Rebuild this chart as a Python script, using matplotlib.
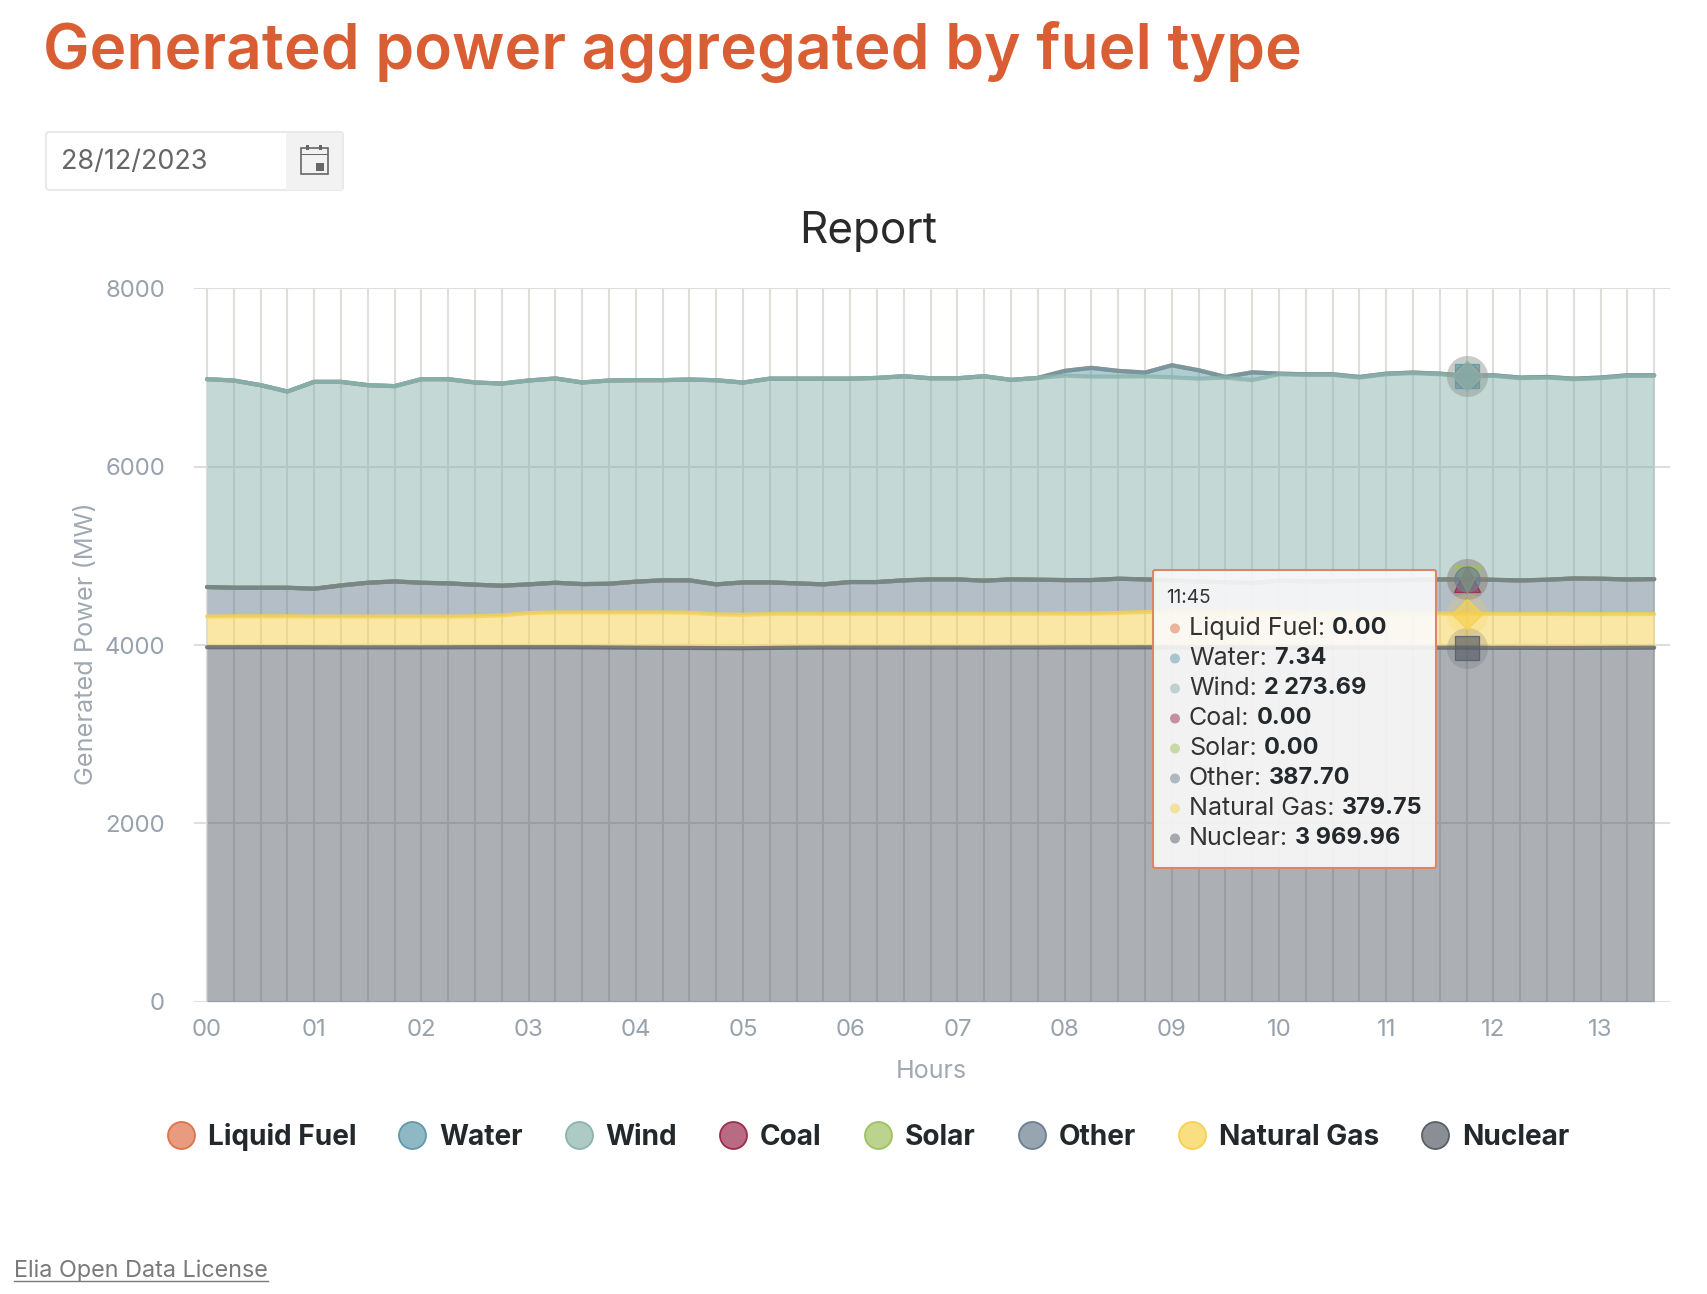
import matplotlib
matplotlib.use("Agg")
import matplotlib.pyplot as plt
from matplotlib import font_manager as fm
from matplotlib.lines import Line2D
from matplotlib.patches import Rectangle, FancyBboxPatch, Ellipse

W, H = 1708, 1294
FONT = "Inter"

hours = ["00", "01", "02", "03", "04", "05", "06", "07", "08", "09", "10", "11", "12", "13"]
series_names = ["Liquid Fuel", "Water", "Wind", "Coal", "Solar", "Other", "Natural Gas", "Nuclear"]
series_colors = ["#E0714A", "#5E9AAB", "#8AB4AC", "#9B2D4E", "#9FC15F", "#6B7F91", "#F7D14D", "#5A6068"]

nuclear = [3975, 3975, 3975, 3975, 3974, 3973, 3973, 3973, 3973, 3974, 3975, 3975, 3975, 3975, 3974, 3972, 3970, 3968,
           3967, 3965, 3964, 3967, 3970, 3971, 3971, 3971, 3971, 3971, 3971, 3971, 3972, 3972, 3973, 3973, 3973, 3974,
           3974, 3973, 3973, 3973, 3972, 3972, 3972, 3971, 3971, 3971, 3970, 3970, 3968, 3968, 3967, 3967, 3968, 3969, 3970]
gas_top = [4320, 4322, 4322, 4322, 4320, 4320, 4320, 4320, 4320, 4320, 4322, 4332, 4358, 4365, 4365, 4365, 4365, 4365,
           4362, 4343, 4339, 4347, 4350, 4350, 4350, 4350, 4350, 4350, 4350, 4350, 4350, 4350, 4352, 4352, 4360, 4369,
           4380, 4378, 4375, 4372, 4370, 4368, 4365, 4362, 4358, 4355, 4352, 4350, 4348, 4348, 4348, 4347, 4347, 4347, 4347]
other_top = [4650, 4642, 4642, 4642, 4631, 4668, 4698, 4713, 4698, 4691, 4676, 4665, 4680, 4698, 4683, 4687, 4710, 4725,
             4725, 4680, 4702, 4702, 4691, 4680, 4706, 4706, 4725, 4736, 4736, 4721, 4736, 4732, 4728, 4728, 4743, 4736,
             4725, 4710, 4705, 4695, 4720, 4715, 4715, 4720, 4725, 4730, 4735, 4737, 4731, 4724, 4732, 4746, 4743, 4735, 4739]
wind_top = [6981, 6966, 6914, 6843, 6951, 6951, 6914, 6903, 6981, 6981, 6944, 6932, 6966, 6989, 6944, 6966, 6970, 6970,
            6977, 6969, 6943, 6987, 6987, 6987, 6987, 6995, 7014, 6991, 6991, 7014, 6973, 6995, 7020, 7010, 7010, 7013,
            7002, 6987, 6999, 6969, 7036, 7029, 7029, 6999, 7036, 7048, 7036, 7011, 7018, 6992, 6999, 6980, 6992, 7018, 7018]
water_top = [6981, 6966, 6914, 6843, 6951, 6951, 6914, 6903, 6981, 6981, 6944, 6932, 6966, 6989, 6944, 6966, 6970, 6970,
             6977, 6969, 6943, 6987, 6987, 6987, 6987, 6995, 7014, 6991, 6991, 7014, 6973, 6995, 7074, 7108, 7074, 7055,
             7137, 7081, 7006, 7058, 7043, 7036, 7036, 7006, 7043, 7055, 7043, 7018, 7025, 6999, 7006, 6987, 6999, 7025, 7025]
zero_line = [0] * 55
idx = list(range(55))
hover_index = 47
tooltip_time = "11:45"
tooltip_values = ["0.00", "7.34", "2 273.69", "0.00", "0.00", "387.70", "379.75", "3 969.96"]

fig = plt.figure(figsize=(W / 100, H / 100), dpi=100, facecolor="white")
px = 0.72
L, R, T, B = 194, 1670, 288.3, 1001.7
ax = fig.add_axes([L / W, 1 - B / H, (R - L) / W, (B - T) / H])
step = 26.80
ax.set_xlim((L - 207) / step, (R - 207) / step)
ax.set_ylim(0, 8000)
for s in ax.spines.values():
    s.set_visible(False)
ax.set_axisbelow(True)
ax.set_yticks([0, 2000, 4000, 6000, 8000])
ax.set_xticks(idx)
ax.set_xticklabels([hours[i // 4] if i % 4 == 0 else "" for i in idx])
ax.grid(True, color="#DEDEDA", lw=1.5)
ax.tick_params(length=0, labelcolor="#98A2AD", labelsize=24 * px)
ax.tick_params(axis="y", pad=29 * px)
ax.tick_params(axis="x", pad=17 * px)
for t in ax.get_xticklabels() + ax.get_yticklabels():
    t.set_fontfamily(FONT)
ax.axhline(0, color="#E2E2E2", lw=2.2, zorder=1)

lows = {"Liquid Fuel": water_top, "Water": wind_top, "Wind": other_top, "Coal": other_top,
        "Solar": other_top, "Other": gas_top, "Natural Gas": nuclear, "Nuclear": zero_line}
tops = {"Liquid Fuel": water_top, "Water": water_top, "Wind": wind_top, "Coal": other_top,
        "Solar": other_top, "Other": other_top, "Natural Gas": gas_top, "Nuclear": nuclear}
for name, c in zip(series_names, series_colors):
    ax.fill_between(idx, lows[name], tops[name], color=c, alpha=0.5, lw=0, zorder=2)
    ax.plot(idx, tops[name], color=c, lw=3.0, alpha=0.8, zorder=3, solid_capstyle="round")

# highlighted points at the hovered time
marker_style = {"Liquid Fuel": "o", "Water": "s", "Wind": "D", "Coal": "^", "Solar": "v",
                "Other": "o", "Natural Gas": "D", "Nuclear": "s"}
for name, c in zip(series_names, series_colors):
    y = tops[name][hover_index]
    ax.plot([hover_index], [y], "o", ms=41 * px, color=c, alpha=0.2, mew=0, zorder=4)
    size = {"s": 24, "D": 21, "o": 25, "^": 27, "v": 27}[marker_style[name]]
    ax.plot([hover_index], [y], marker_style[name], ms=size * px, mfc=matplotlib.colors.to_rgba(c, 0.65),
            mec=matplotlib.colors.to_rgba(c, 0.9), mew=0.9, zorder=5)

ax.set_xlabel("Hours", fontfamily=FONT, fontsize=25 * px, color="#A0A9B2")
ax.xaxis.set_label_coords((931 - L) / (R - L), -(1071 - B) / (B - T), transform=ax.transAxes)
ax.xaxis.label.set_va("center")
ax.set_ylabel("Generated Power (MW)", fontfamily=FONT, fontsize=25.3 * px, color="#A0A9B2")
ax.yaxis.set_label_coords((87 - L) / (R - L), (B - 644) / (B - T), transform=ax.transAxes)
ax.yaxis.label.set_va("center")

handles = [Line2D([], [], ls="", marker="o", ms=27 * px, mfc=matplotlib.colors.to_rgba(c, 0.7), mec=c, mew=1.3)
           for c in series_colors]
leg = fig.legend(handles, series_names, loc="center", bbox_to_anchor=(868 / W, 1 - 1137 / H), ncol=8, frameon=False,
                 handletextpad=0.46, columnspacing=1.5, handlelength=1.0,
                 prop=fm.FontProperties(family=FONT, weight="bold", size=28 * px))
for t in leg.get_texts():
    t.set_color("#22282B")

# overlay in pixel coordinates for page furniture
ov = fig.add_axes([0, 0, 1, 1], zorder=10)
ov.set_xlim(0, W)
ov.set_ylim(H, 0)
ov.axis("off")
ov.patch.set_alpha(0)

ov.text(43, 52, "Generated power aggregated by fuel type", fontfamily=FONT, fontweight="semibold",
        fontsize=62.2 * px, color="#D95E33", va="center", ha="left")
ov.text(868, 231, "Report", fontfamily=FONT, fontsize=44 * px, color="#2A2A2A", ha="center", va="center")

# date input
ov.add_patch(FancyBboxPatch((46, 132), 297, 58, boxstyle="round,pad=0,rounding_size=3", fc="white", ec="#E9E9E9", lw=1.5))
ov.add_patch(Rectangle((286, 133), 56.5, 56.5, fc="#F2F2F2", ec="none"))
ov.text(61, 162, "28/12/2023", fontfamily=FONT, fontsize=27 * px, color="#666666", va="center")
ov.add_patch(Rectangle((301, 148), 27, 26, fc="none", ec="#666666", lw=1.2))
ov.add_patch(Rectangle((301, 153.5), 27, 1.6, fc="#666666", ec="none"))
ov.add_patch(Rectangle((306, 145), 3.5, 5, fc="#666666", ec="none"))
ov.add_patch(Rectangle((319, 145), 3.5, 5, fc="#666666", ec="none"))
ov.add_patch(Rectangle((316, 163), 8.5, 8, fc="#666666", ec="none"))

# tooltip
ov.add_patch(FancyBboxPatch((1153, 570), 283, 298, boxstyle="round,pad=0,rounding_size=2",
                            fc=(0.98, 0.98, 0.98, 0.9), ec="#E08468", lw=1.5))
ov.text(1166, 598, tooltip_time, fontfamily=FONT, fontsize=19 * px, color="#333333", va="center")
renderer = fig.canvas.get_renderer()
row_y = 628.5
for name, val, c in zip(series_names, tooltip_values, series_colors):
    ov.add_patch(Ellipse((1175, row_y), 10, 10, fc=matplotlib.colors.to_rgba(c, 0.5), ec="none"))
    t = ov.text(1189, row_y, name + ":", fontfamily=FONT, fontsize=25 * px, color="#333333", va="center")
    bb = t.get_window_extent(renderer)
    ov.text(1189 + bb.width + 7, row_y, val, fontfamily=FONT, fontweight="bold", fontsize=23.5 * px, color="#22282B", va="center")
    row_y += 30

# footer
ft = ov.text(14, 1271, "Elia Open Data License", fontfamily=FONT, fontsize=23.4 * px, color="#7A7A7A", va="center")
bb = ft.get_window_extent(renderer)
ov.plot([14, 14 + bb.width], [1281, 1281], color="#7A7A7A", lw=1)

fig.savefig("out.png", dpi=100)
